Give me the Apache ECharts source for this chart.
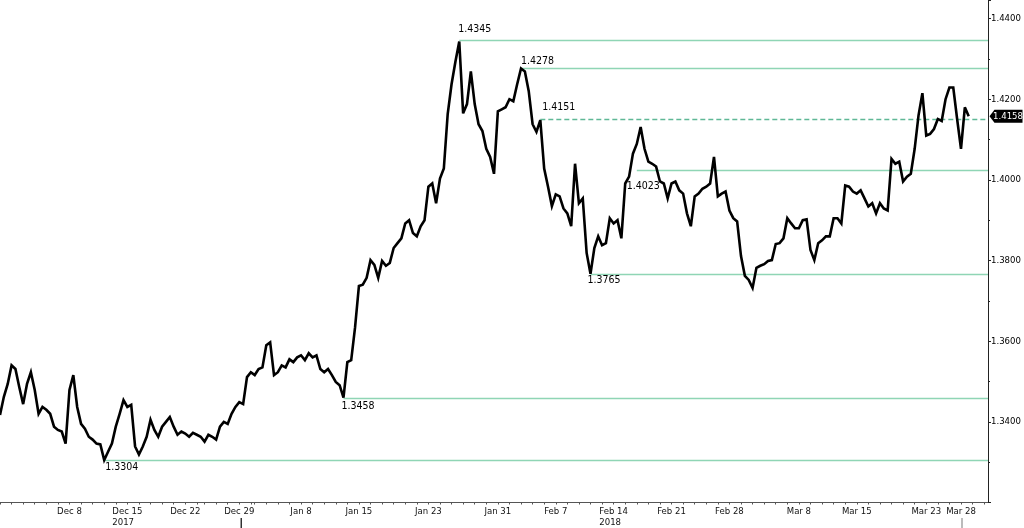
<!DOCTYPE html>
<html>
<head>
<meta charset="utf-8">
<script src="https://cdn.jsdelivr.net/npm/echarts@6/dist/echarts.min.js"></script>
<style>
html,body{margin:0;padding:0;background:#fff;}
#c{width:1024px;height:528px;}
</style>
</head>
<body>
<div id="c"></div>
<script>
// Trading days shown on the axis (each split into intraday slots)
const tradingDays = [
  'Nov 30','Dec 1',
  'Dec 4','Dec 5','Dec 6','Dec 7','Dec 8',
  'Dec 11','Dec 12','Dec 13','Dec 14','Dec 15',
  'Dec 18','Dec 19','Dec 20','Dec 21','Dec 22',
  'Dec 25','Dec 26','Dec 27','Dec 28','Dec 29',
  'Jan 1','Jan 2','Jan 3','Jan 4','Jan 5',
  'Jan 8','Jan 9','Jan 10','Jan 11','Jan 12',
  'Jan 15','Jan 16','Jan 17','Jan 18','Jan 19',
  'Jan 22','Jan 23','Jan 24','Jan 25','Jan 26',
  'Jan 29','Jan 30','Jan 31','Feb 1','Feb 2',
  'Feb 5','Feb 6','Feb 7','Feb 8','Feb 9',
  'Feb 12','Feb 13','Feb 14','Feb 15','Feb 16',
  'Feb 19','Feb 20','Feb 21','Feb 22','Feb 23',
  'Feb 26','Feb 27','Feb 28','Mar 1','Mar 2',
  'Mar 5','Mar 6','Mar 7','Mar 8','Mar 9',
  'Mar 12','Mar 13','Mar 14','Mar 15','Mar 16',
  'Mar 19','Mar 20','Mar 21','Mar 22','Mar 23',
  'Mar 26','Mar 27','Mar 28','Mar 29','Mar 30'
];
const slotsPerDay = 3;
const shortDays = {'Dec 25': 2, 'Jan 1': 1};
const axisSlotCount = 257;

// Price path (GBP/USD), one reading per intraday slot
const closes = [
  1.3417,1.3462,1.3494,1.3540,1.3531,1.3486,1.3444,1.3494,1.3523,1.3479,1.3420,1.3437,
  1.3430,1.3420,1.3388,1.3380,1.3376,1.3346,1.3479,1.3516,1.3437,1.3395,1.3383,1.3363,
  1.3356,1.3346,1.3344,1.3305,1.3326,1.3346,1.3388,1.3420,1.3454,1.3437,1.3442,1.3339,
  1.3319,1.3339,1.3363,1.3405,1.3380,1.3363,1.3388,1.3400,1.3412,1.3388,1.3368,1.3376,
  1.3371,1.3363,1.3373,1.3368,1.3363,1.3351,1.3368,1.3363,1.3356,1.3388,1.3400,1.3395,
  1.3420,1.3437,1.3449,1.3444,1.3511,1.3523,1.3516,1.3531,1.3535,1.3590,1.3597,1.3516,
  1.3523,1.3540,1.3535,1.3555,1.3548,1.3560,1.3565,1.3553,1.3570,1.3560,1.3565,1.3531,
  1.3523,1.3531,1.3516,1.3499,1.3491,1.3460,1.3548,1.3553,1.3634,1.3737,1.3740,1.3757,
  1.3801,1.3789,1.3757,1.3799,1.3787,1.3794,1.3831,1.3843,1.3855,1.3892,1.3900,1.3868,
  1.3860,1.3885,1.3900,1.3983,1.3991,1.3942,1.4003,1.4028,1.4163,1.4237,1.4293,1.4343,
  1.4165,1.4188,1.4269,1.4188,1.4138,1.4121,1.4077,1.4057,1.4015,1.4170,1.4175,1.4180,
  1.4200,1.4195,1.4237,1.4276,1.4269,1.4220,1.4138,1.4119,1.4148,1.4028,1.3983,1.3935,
  1.3964,1.3959,1.3929,1.3917,1.3885,1.4040,1.3942,1.3954,1.3819,1.3767,1.3831,1.3860,
  1.3838,1.3843,1.3905,1.3892,1.3900,1.3855,1.3991,1.4008,1.4065,1.4089,1.4131,1.4077,
  1.4045,1.4040,1.4033,1.3996,1.3991,1.3954,1.3991,1.3996,1.3974,1.3966,1.3917,1.3885,
  1.3959,1.3966,1.3978,1.3983,1.3991,1.4057,1.3959,1.3966,1.3971,1.3924,1.3905,1.3897,
  1.3811,1.3762,1.3752,1.3732,1.3782,1.3787,1.3791,1.3799,1.3801,1.3841,1.3843,1.3855,
  1.3905,1.3892,1.3880,1.3880,1.3900,1.3902,1.3826,1.3801,1.3843,1.3850,1.3860,1.3860,
  1.3905,1.3905,1.3892,1.3986,1.3983,1.3971,1.3966,1.3974,1.3954,1.3934,1.3942,1.3917,
  1.3942,1.3929,1.3924,1.4052,1.4040,1.4045,1.3996,1.4008,1.4015,1.4077,1.4160,1.4215,
  1.4110,1.4114,1.4126,1.4151,1.4146,1.4200,1.4229,1.4229,1.4151,1.4077,1.4180,1.4158
];

// Horizontal support / resistance levels
const levelValues = [1.4345, 1.4278, 1.4151, 1.4023, 1.3765, 1.3458, 1.3304];
const levelStarts = ['Jan 25|2', 'Feb 2|0', 'Feb 5|2', 'Feb 16|0', 'Feb 12|0', 'Jan 11|2', 'Dec 13|0'];
const levelDashed = [false, false, true, false, false, false, false];
const levelLabelAbove = [true, true, true, false, false, false, false];

// Axis labels
const xLabelDays = ['Dec 8','Dec 15','Dec 22','Dec 29','Jan 8','Jan 15','Jan 23','Jan 31',
  'Feb 7','Feb 14','Feb 21','Feb 28','Mar 8','Mar 15','Mar 23','Mar 28'];
const yearLabels = {'Dec 15': '2017', 'Feb 14': '2018'};
const yMin = 1.32, yMax = 1.4446, yStep = 0.02;

// ---- build ----
const FONT = "'DejaVu Sans Condensed','Liberation Sans',sans-serif";
const categories = [];
tradingDays.forEach(d => {
  const n = shortDays[d] || slotsPerDay;
  for (let s = 0; s < n; s++) categories.push(d + '|' + s);
});
categories.length = axisSlotCount;
const lastCat = categories[categories.length - 1];
const lastVal = closes[closes.length - 1];

const levelLabelDist = [[-1, 6], [0, 1], [2, 6], [-10, 10], [-3, 0], [-2, 2], [1, 1]];

const markLineData = levelValues.map((v, i) => [
  {
    coord: [levelStarts[i], v],
    lineStyle: levelDashed[i]
      ? {color: '#5fb896', width: 1.4, type: [5, 3]}
      : {color: '#8fd5b5', width: 1.4, type: 'solid'},
    label: {
      show: true,
      position: levelLabelAbove[i] ? 'insideStartTop' : 'insideStartBottom',
      distance: levelLabelDist[i],
      formatter: v.toFixed(4),
      color: '#000',
      fontSize: 10.5,
      fontFamily: FONT
    }
  },
  {coord: [lastCat, v]}
]);

const chart = echarts.init(document.getElementById('c'), null, {renderer: 'canvas'});
chart.setOption({
  animation: false,
  backgroundColor: '#fff',
  grid: {left: 0, right: 36, top: 0, bottom: 23, containLabel: false},
  xAxis: {
    type: 'category',
    data: categories,
    boundaryGap: false,
    axisLine: {show: true, lineStyle: {color: '#555', width: 1}},
    axisTick: {
      show: true, length: 2, lineStyle: {color: '#555'},
      interval: (idx, val) => val.split('|')[1] === '0'
    },
    axisLabel: {
      show: true, margin: 4, color: '#111', fontSize: 9.5, fontFamily: FONT,
      interval: (idx, val) => {
        const p = val.split('|');
        return p[1] === '0' && xLabelDays.indexOf(p[0]) >= 0;
      },
      formatter: (val) => {
        const d = val.split('|')[0];
        return yearLabels[d] ? '{d|' + d + '}\n{y|' + yearLabels[d] + '}' : '{d|' + d + '}';
      },
      rich: {
        d: {fontSize: 9.5, color: '#111', fontFamily: FONT, lineHeight: 11},
        y: {fontSize: 9.5, color: '#111', fontFamily: FONT, lineHeight: 11, align: 'left'}
      }
    },
    splitLine: {show: false}
  },
  yAxis: {
    type: 'value',
    position: 'right',
    min: yMin, max: yMax, interval: yStep,
    axisLine: {show: true, lineStyle: {color: '#222', width: 1}},
    axisTick: {show: true, length: 3, inside: false, lineStyle: {color: '#222'}},
    minorTick: {show: true, splitNumber: 2, length: 2, lineStyle: {color: '#222'}},
    splitLine: {show: false},
    axisLabel: {
      show: true, margin: 3, color: '#000', fontSize: 9.5, fontFamily: FONT,
      showMinLabel: false, showMaxLabel: false,
      formatter: v => v.toFixed(4)
    }
  },
  series: [{
    type: 'line',
    data: closes,
    symbol: 'none',
    lineStyle: {color: '#000', width: 2.6, join: 'miter', miterLimit: 4},
    clip: false,
    z: 3,
    markLine: {
      silent: true,
      symbol: ['none', 'none'],
      z: 2,
      data: markLineData
    },
    markPoint: {
      silent: true,
      symbol: 'path://M0,6 L6,0 L40,0 L40,12 L6,12 Z',
      symbolSize: [33, 13],
      symbolOffset: [18, 0],
      itemStyle: {color: '#000'},
      label: {
        show: true, position: 'inside', color: '#fff', fontSize: 9.5, fontFamily: FONT,
        offset: [2, 0],
        formatter: lastVal.toFixed(4)
      },
      data: [{coord: [lastCat, lastVal], value: lastVal}]
    }
  }]
});

// Year separator and "current" markers under the time axis
const sepX = (chart.convertToPixel({xAxisIndex: 0}, 'Dec 29|0') + chart.convertToPixel({xAxisIndex: 0}, 'Dec 29|1')) / 2;
const nowX = chart.convertToPixel({xAxisIndex: 0}, 'Mar 28|0');
chart.setOption({
  graphic: [
    {type: 'line', shape: {x1: sepX, y1: 518, x2: sepX, y2: 528}, style: {stroke: '#000', lineWidth: 1.2}, silent: true},
    {type: 'line', shape: {x1: nowX + 1, y1: 518, x2: nowX + 1, y2: 528}, style: {stroke: '#bbb', lineWidth: 2}, silent: true}
  ]
});
</script>
</body>
</html>
